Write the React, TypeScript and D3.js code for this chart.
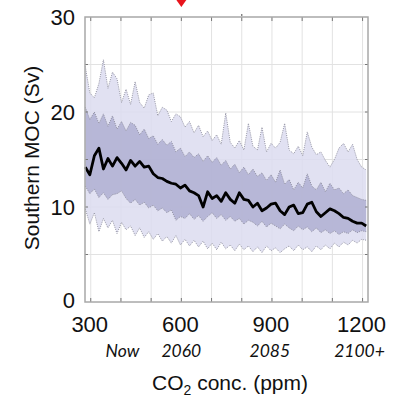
import React from "react";
import * as d3 from "d3";

// CO2 concentration (ppm) sample positions
const ppm = [
  282, 297, 312, 327, 342, 357, 372, 387, 402, 417, 432, 447, 462, 477, 492, 507,
  522, 537, 552, 567, 582, 597, 612, 627, 642, 657, 672, 687, 702, 717, 732, 747,
  762, 777, 792, 807, 822, 837, 852, 867, 882, 897, 912, 927, 942, 957, 972, 987,
  1002, 1017, 1032, 1047, 1062, 1077, 1092, 1107, 1122, 1137, 1152, 1167, 1182, 1197, 1212,
];

// ensemble mean (Sv)
const meanMoc = [
  14.2, 13.4, 15.4, 16.2, 14.0, 15.1, 14.3, 15.2, 14.6, 13.9, 14.9, 14.3, 14.8, 14.2, 14.3, 13.5,
  13.1, 13.0, 12.7, 12.5, 12.4, 12.0, 12.3, 11.7, 11.5, 11.2, 10.0, 11.6, 10.9, 11.2, 10.6, 11.5,
  10.8, 10.4, 11.5, 10.8, 10.7, 10.0, 10.4, 9.6, 9.9, 10.3, 10.4, 9.6, 9.2, 10.0, 10.2, 9.3,
  9.4, 10.3, 10.5, 9.5, 9.0, 9.4, 9.8, 9.6, 9.3, 8.9, 8.8, 8.5, 8.3, 8.3, 8.0,
];

// outer envelope (Sv)
const outerHigh = [
  24.8, 22.0, 21.5, 23.0, 25.5, 22.5, 24.2, 23.5, 21.0, 22.4, 20.8, 23.2, 21.0, 20.4, 21.8, 22.0,
  19.6, 20.5, 20.2, 19.0, 19.8, 19.5, 18.4, 19.0, 17.8, 18.6, 17.4, 18.0, 17.0, 17.6, 16.6, 19.9,
  16.8, 16.2, 17.0, 16.0, 18.8, 16.4, 16.0, 18.4, 15.8, 16.7, 16.2, 16.8, 18.8, 16.0, 15.6, 16.4,
  15.4, 17.9, 16.3, 15.5, 15.8, 14.9, 14.2, 15.0, 16.2, 16.7, 15.8, 16.6, 15.0, 14.2, 13.9,
];
const outerLow = [
  9.8, 8.2, 9.4, 7.4, 8.8, 7.8, 8.6, 7.2, 8.4, 7.6, 8.0, 7.0, 7.8, 6.8, 7.4, 6.6,
  7.2, 6.4, 6.9, 6.2, 7.0, 6.0, 6.6, 5.9, 6.5, 5.8, 6.4, 5.6, 6.2, 5.5, 6.3, 5.6,
  6.0, 5.4, 6.1, 5.5, 5.9, 5.3, 5.8, 5.2, 5.9, 5.4, 5.7, 5.2, 5.6, 5.9, 5.4, 6.0,
  5.5, 5.8, 5.3, 5.9, 5.5, 6.0, 5.6, 6.2, 5.8, 6.3, 6.0, 6.5, 6.2, 6.6, 6.5,
];

// inner envelope (Sv)
const innerHigh = [
  20.5, 19.2, 20.0, 18.8, 19.8, 18.5, 19.6, 18.2, 19.0, 18.0, 18.9, 18.6, 17.6, 18.2, 17.2, 17.5,
  16.6, 17.1, 16.5, 16.9, 15.8, 16.2, 15.3, 15.8, 15.2, 15.6, 14.8, 15.4, 14.7, 15.2, 14.4, 14.9,
  14.0, 14.5, 13.6, 14.2, 13.4, 14.0, 13.2, 13.6, 12.8, 13.4, 12.6, 13.9, 12.4, 12.9, 11.8, 12.6,
  12.0, 13.5, 12.2, 11.8, 12.6, 11.6, 12.5, 11.8, 12.0, 11.4, 11.8, 11.2, 11.0, 10.8, 10.7,
];
const innerLow = [
  12.2, 11.4, 11.9, 11.0, 11.5, 10.8, 11.3, 11.4, 11.7, 10.9, 10.4, 10.8, 10.2, 10.5, 9.9, 10.2,
  9.6, 9.9, 9.4, 9.7, 8.6, 9.0, 8.8, 9.3, 8.7, 9.1, 8.5, 9.0, 9.4, 8.8, 9.2, 8.6,
  9.0, 8.5, 8.8, 8.2, 8.6, 8.4, 8.0, 8.5, 7.9, 8.3, 8.0, 7.7, 8.2, 7.8, 7.5, 8.0,
  7.6, 7.9, 7.4, 7.8, 7.3, 7.6, 7.2, 7.5, 7.1, 7.4, 7.2, 7.6, 7.3, 7.5, 7.4,
];

const xTicks = [300, 600, 900, 1200];
const xGrid = [300, 400, 500, 600, 700, 800, 900, 1000, 1100, 1200];
const yTicks = [0, 10, 20, 30];
const yGrid = [5, 10, 15, 20, 25];
const yearLabels = ["Now", "2060", "2085", "2100+"];
const yearPpm = [405, 600, 893, 1190];

const W = 402;
const H = 399;
const left = 85;
const right = 368;
const top = 17;
const bottom = 302;

export default function App() {
  const x = d3.scaleLinear().domain([281, 1218]).range([left, right]);
  const y = d3.scaleLinear().domain([0, 30]).range([bottom, top]);

  const band = (hi: number[], lo: number[]) =>
    d3
      .area<number>()
      .x((_, i) => x(ppm[i]))
      .y0((_, i) => y(lo[i]))
      .y1((_, i) => y(hi[i]))(ppm) as string;

  const edge = (vals: number[]) =>
    d3
      .line<number>()
      .x((_, i) => x(ppm[i]))
      .y((d) => y(d))(vals) as string;

  const font = "Liberation Sans, Arial, sans-serif";
  const dotted = { fill: "none", stroke: "#8a8a9a", strokeWidth: 0.9, strokeDasharray: "1 1.2" };

  return (
    <svg width={W} height={H} style={{ position: "absolute", left: 0, top: 0, background: "#fff" }}>
      {/* grid */}
      {xGrid.map((t) => (
        <line key={"gx" + t} x1={x(t)} x2={x(t)} y1={top} y2={bottom} stroke="#e2e2e2" strokeWidth={1} />
      ))}
      {yGrid.map((t) => (
        <line key={"gy" + t} x1={left} x2={right} y1={y(t)} y2={y(t)} stroke="#e2e2e2" strokeWidth={1} />
      ))}

      {/* bands */}
      <path d={band(outerHigh, outerLow)} fill="#dcdcf0" opacity={0.85} />
      <path d={band(innerHigh, innerLow)} fill="#acacd0" opacity={0.8} />
      <path d={edge(outerHigh)} {...dotted} />
      <path d={edge(outerLow)} {...dotted} />
      <path d={edge(innerHigh)} {...dotted} />
      <path d={edge(innerLow)} {...dotted} />

      {/* mean */}
      <path d={edge(meanMoc)} fill="none" stroke="#000" strokeWidth={2.8} strokeLinejoin="round" />

      {/* tick marks */}
      {xGrid.map((t) => (
        <g key={"tk" + t} stroke="#777" strokeWidth={1}>
          <line x1={x(t)} x2={x(t)} y1={bottom} y2={bottom - 4} />
          <line x1={x(t)} x2={x(t)} y1={top} y2={top + 4} />
        </g>
      ))}
      {yGrid.map((t) => (
        <g key={"tky" + t} stroke="#777" strokeWidth={1}>
          <line x1={left} x2={left + 3} y1={y(t)} y2={y(t)} />
          <line x1={right} x2={right - 3} y1={y(t)} y2={y(t)} />
        </g>
      ))}

      {/* frame */}
      <rect x={left} y={top} width={right - left} height={bottom - top} fill="none" stroke="#a8a8a8" strokeWidth={1.5} />

      {/* y tick labels */}
      {yTicks.map((t) => (
        <text key={"yl" + t} x={75} y={y(t) + (t === 0 ? 6 : 8)} textAnchor="end" fontFamily={font} fontSize={22} fill="#111">
          {t}
        </text>
      ))}

      {/* x tick labels */}
      {xTicks.map((t) => (
        <text key={"xl" + t} x={x(t) - 1} y={332} textAnchor="middle" fontFamily={font} fontSize={22} fill="#111">
          {t}
        </text>
      ))}

      {/* year labels */}
      {yearLabels.map((s, i) => (
        <text
          key={s}
          x={x(yearPpm[i])}
          y={357}
          textAnchor="middle"
          fontFamily="Lato, Open Sans, sans-serif"
          fontStyle="italic"
          fontSize={17.5}
          fill="#111"
        >
          {s}
        </text>
      ))}

      {/* axis titles */}
      <text x={230} y={390} textAnchor="middle" fontFamily={font} fontSize={21} fill="#111">
        CO<tspan fontSize={14} dy={5}>2</tspan>
        <tspan dy={-5}> conc. (ppm)</tspan>
      </text>
      <text
        transform="translate(39,158) rotate(-90)"
        textAnchor="middle"
        fontFamily={font}
        fontSize={21}
        fill="#111"
      >
        Southern MOC (Sv)
      </text>

      {/* red arrow marker and stray dot */}
      <polygon points={`${x(600) - 5},0 ${x(600) + 5},0 ${x(600)},7`} fill="#e8141c" />
      <circle cx={x(800)} cy={15} r={0.8} fill="#333" />
    </svg>
  );
}
